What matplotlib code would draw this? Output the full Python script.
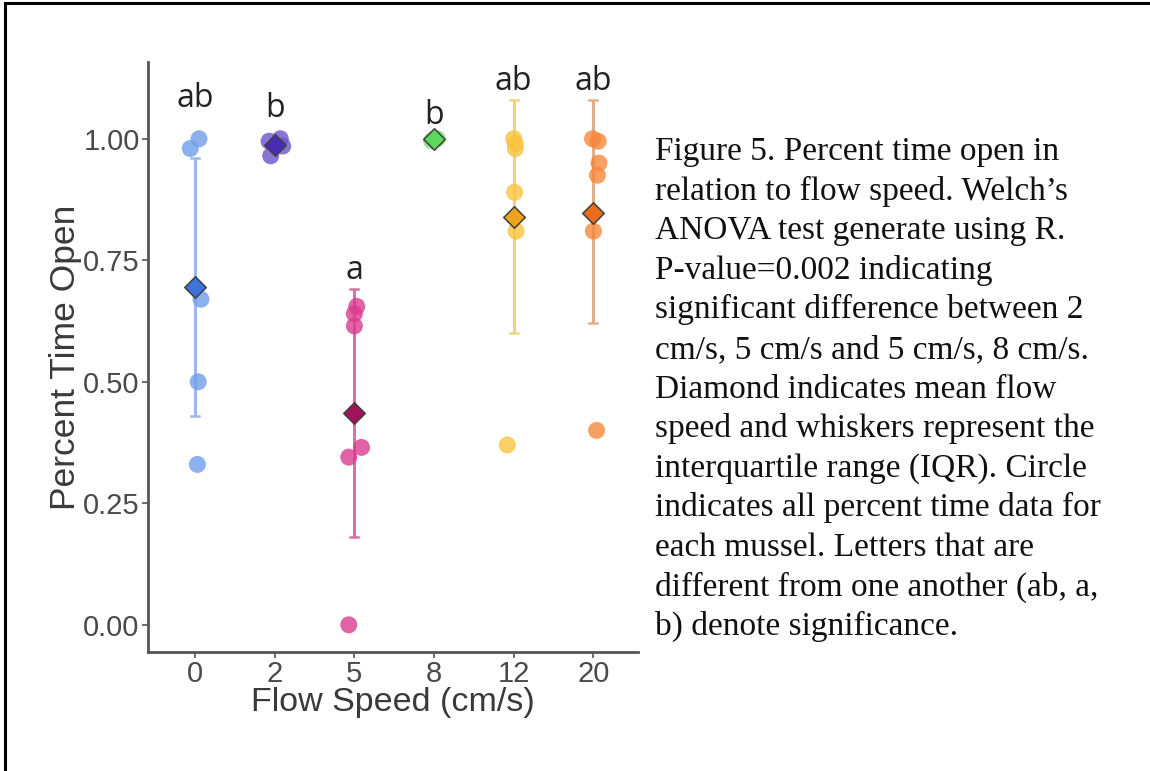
import numpy as np
import matplotlib.pyplot as plt
from matplotlib.lines import Line2D

# =========================
# DATA
# =========================
flow_labels = ["0", "2", "5", "8", "12", "20"]

pct_0 = [1.00, 0.98, 0.67, 0.50, 0.33]
pct_2 = [1.00, 0.995, 0.985, 0.965]
pct_5 = [0.655, 0.64, 0.615, 0.365, 0.345, 0.00]
pct_8 = [1.00, 0.996, 1.00]
pct_12 = [1.00, 0.99, 0.98, 0.89, 0.81, 0.37]
pct_20 = [1.00, 0.995, 0.95, 0.925, 0.81, 0.40]

# horizontal jitter of each point
jit_0 = [0.05, -0.06, 0.075, 0.04, 0.03]
jit_2 = [0.07, -0.07, 0.10, -0.05]
jit_5 = [0.03, 0.0, 0.0, 0.09, -0.07, -0.07]
jit_8 = [0.04, -0.03, 0.01]
jit_12 = [0.0, 0.02, 0.02, 0.01, 0.03, -0.08]
jit_20 = [-0.01, 0.06, 0.07, 0.05, 0.0, 0.04]

# whiskers (IQR)
iqr_low = [0.43, 0.985, 0.18, 0.998, 0.60, 0.62]
iqr_high = [0.96, 1.00, 0.69, 1.00, 1.08, 1.08]

sig_letters = ["ab", "b", "a", "b", "ab", "ab"]
letter_y = [1.082, 1.062, 0.73, 1.048, 1.118, 1.118]

point_colors = ["#719eec", "#6c52cc", "#d93d8f", "#7ee07a", "#f9c43e", "#f5883a"]
mean_colors = ["#3d74d8", "#4a2cb4", "#a3125c", "#5fd65c", "#eba41c", "#e96c1a"]
bar_colors = ["#9cb9ea", "#8a7ad8", "#d872a6", "#8fe28b", "#eed67e", "#e3ae88"]

caption = [
    "Figure 5. Percent time open in",
    "relation to flow speed. Welch\u2019s",
    "ANOVA test generate using R.",
    "P-value=0.002 indicating",
    "significant difference between 2",
    "cm/s, 5 cm/s and 5 cm/s, 8 cm/s.",
    "Diamond indicates mean flow",
    "speed and whiskers represent the",
    "interquartile range (IQR). Circle",
    "indicates all percent time data for",
    "each mussel. Letters that are",
    "different from one another (ab, a,",
    "b) denote significance.",
]

groups = [pct_0, pct_2, pct_5, pct_8, pct_12, pct_20]
jitters = [jit_0, jit_2, jit_5, jit_8, jit_12, jit_20]

# =========================
# PLOT
# =========================
fig = plt.figure(figsize=(11.5, 7.71), dpi=100)
ax = fig.add_axes([0.1287, 0.1543, 0.4261, 0.7653])

axis_gray = "#555555"

for i, (vals, jit) in enumerate(zip(groups, jitters)):
    mean_val = np.mean(vals)
    ax.plot([i, i], [iqr_low[i], iqr_high[i]], color=bar_colors[i], lw=2.2,
            zorder=1, solid_capstyle="butt")
    for yy in (iqr_low[i], iqr_high[i]):
        ax.plot([i - 0.05, i + 0.05], [yy, yy], color=bar_colors[i], lw=1.8, zorder=1)
    ax.scatter(np.array(jit) + i, vals, s=150, color=point_colors[i], alpha=0.8,
               edgecolors="none", zorder=2)
    ax.scatter([i], [mean_val], s=120, marker="D", color=mean_colors[i],
               edgecolors="#404040", linewidths=1.1, zorder=3)
    ax.text(i, letter_y[i], sig_letters[i], ha="center", va="center",
            fontsize=23, family="Open Sans", color="#222222")

ax.set_xlim(-0.59, 5.56)
ax.set_ylim(-0.056, 1.158)
ax.set_xticks(range(len(flow_labels)))
ax.set_xticklabels(flow_labels)
ax.set_yticks([0, 0.25, 0.5, 0.75, 1.0])
ax.set_yticklabels(["0.00", "0.25", "0.50", "0.75", "1.00"])

for side in ("top", "right"):
    ax.spines[side].set_visible(False)
for side in ("left", "bottom"):
    ax.spines[side].set_color(axis_gray)
    ax.spines[side].set_linewidth(2.0)

ax.tick_params(axis="both", colors=axis_gray, length=4, width=1.2,
               labelsize=21, labelcolor="#4a4a4a", pad=2)
for lab in ax.get_xticklabels() + ax.get_yticklabels():
    lab.set_family("Liberation Sans")

ax.set_xlabel("Flow Speed (cm/s)", fontsize=24.5, family="Liberation Sans",
              color="#3a3a3a", labelpad=-1)
ax.set_ylabel("Percent Time Open", fontsize=25.5, family="Liberation Sans",
              color="#3a3a3a", labelpad=1)

# caption on the right
for k, line in enumerate(caption):
    fig.text(655 / 1150, 1 - (160 + k * 39.6) / 771, line, ha="left", va="baseline",
             fontsize=24, family="Liberation Serif", color="#111111")

# page frame (top and left edges)
fig.add_artist(Line2D([0.004, 1.0], [0.996, 0.996], color="black", lw=2.2,
                      transform=fig.transFigure))
fig.add_artist(Line2D([0.004, 0.004], [0.0, 0.996], color="black", lw=2.2,
                      transform=fig.transFigure))

plt.savefig("out.png", dpi=100)
